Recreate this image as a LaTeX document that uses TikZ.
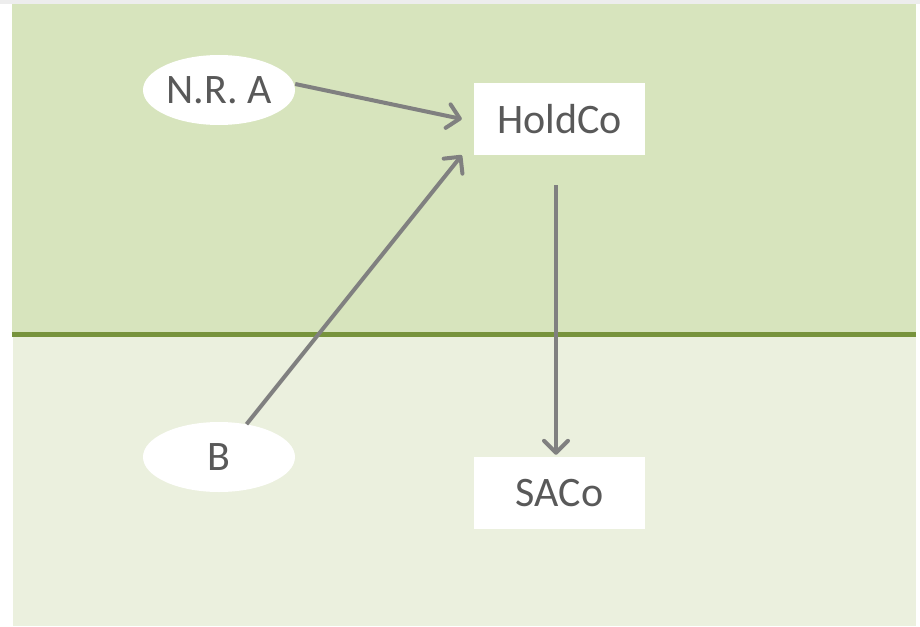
\documentclass[tikz,border=0pt]{standalone}
\usepackage{fontspec}
\setmainfont{Carlito}
\usetikzlibrary{shapes.geometric,arrows.meta}
\definecolor{topgreen}{RGB}{215,228,189}
\definecolor{lowgreen}{RGB}{235,240,222}
\definecolor{divline}{RGB}{119,147,60}
\definecolor{arrowgray}{RGB}{128,128,128}
\definecolor{txtgray}{RGB}{89,89,89}
\tikzset{
  lbl/.style={text=txtgray,font=\fontsize{42}{46}\selectfont},
  oval/.style={lbl,ellipse,fill=white,draw=none,minimum width=152pt,minimum height=70pt,inner sep=0pt},
  entbox/.style={lbl,rectangle,fill=white,draw=none,minimum width=171pt,minimum height=72pt,inner sep=0pt},
  conn/.style={draw=arrowgray,line width=4pt,-{Straight Barb[length=12pt,width=24pt,round]}}
}
\begin{document}
\begin{tikzpicture}[x=1pt,y=-1pt]
\useasboundingbox (0,0) rectangle (920,626);
\fill[white] (0,0) rectangle (920,626);
\fill[black!7] (0,0) rectangle (920,4);
\fill[topgreen] (12,4) rectangle (916,334);
\fill[lowgreen] (13,334) rectangle (916,626);
\draw[divline,line width=5pt] (12,334) -- (916,334);
\node[oval] (nra) at (219,90) {N.R. A};
\node[oval] (b) at (219,457) {B};
\node[entbox] (holdco) at (559.5,119) {HoldCo};
\node[entbox] (saco) at (559.5,493) {SACo};
\draw[conn] ([yshift=6pt]nra.east) -- ([xshift=-12pt]holdco.west);
\draw[conn] (b.50) -- ([xshift=-12pt]holdco.south west);
\draw[conn] ([xshift=-3.5pt,yshift=-30pt]holdco.south) -- ([xshift=-3.5pt,yshift=2pt]saco.north);
\end{tikzpicture}
\end{document}
